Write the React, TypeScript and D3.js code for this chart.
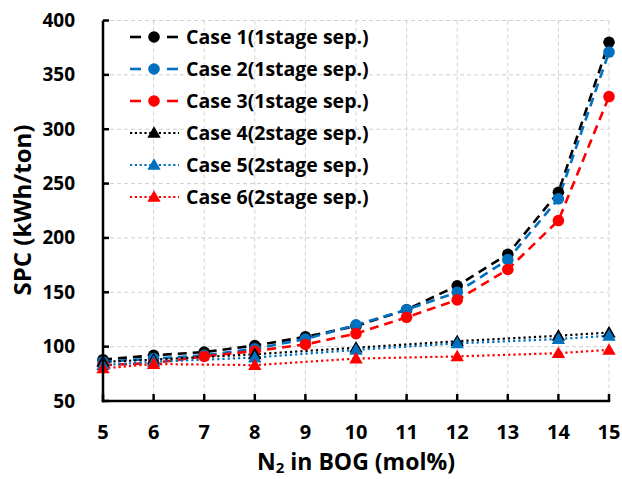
import React from "react";
import * as d3 from "d3";

const xCircle = [5, 6, 7, 8, 9, 10, 11, 12, 13, 14, 15];
const case1 = [88, 92, 95, 101, 109, 119, 134, 156, 185, 242, 380];
const case2 = [86, 89, 92, 98, 107, 120, 134, 150, 180, 236, 371];
const case3 = [83, 85, 91, 96, 102, 112, 127, 143, 171, 216, 330];
const xTri = [5, 6, 8, 10, 12, 14, 15];
const case4 = [86, 88, 93, 99, 105, 110, 113];
const case5 = [83, 86, 90, 97, 103, 107, 110];
const case6 = [80, 84, 83, 89, 91, 94, 97];
const xTicks = [5, 6, 7, 8, 9, 10, 11, 12, 13, 14, 15];
const yTicks = [50, 100, 150, 200, 250, 300, 350, 400];
const labels = [
  "Case 1(1stage sep.)",
  "Case 2(1stage sep.)",
  "Case 3(1stage sep.)",
  "Case 4(2stage sep.)",
  "Case 5(2stage sep.)",
  "Case 6(2stage sep.)",
];

const BLACK = "#000000";
const BLUE = "#0070C0";
const RED = "#FF0000";

type Series = { xs: number[]; ys: number[]; color: string; kind: "circle" | "tri"; label: string };
const series: Series[] = [
  { xs: xCircle, ys: case1, color: BLACK, kind: "circle", label: labels[0] },
  { xs: xCircle, ys: case2, color: BLUE, kind: "circle", label: labels[1] },
  { xs: xCircle, ys: case3, color: RED, kind: "circle", label: labels[2] },
  { xs: xTri, ys: case4, color: BLACK, kind: "tri", label: labels[3] },
  { xs: xTri, ys: case5, color: BLUE, kind: "tri", label: labels[4] },
  { xs: xTri, ys: case6, color: RED, kind: "tri", label: labels[5] },
];

const FONT = "'Open Sans', 'Liberation Sans', sans-serif";

export default function App() {
  const W = 622, H = 479;
  const x = d3.scaleLinear().domain([5, 15]).range([103, 609]);
  const y = d3.scaleLinear().domain([50, 400]).range([401, 20.5]);
  const line = d3.line<[number, number]>().x((d) => x(d[0])).y((d) => y(d[1]));
  const tri = d3.symbol().type(d3.symbolTriangle).size(78)()!;

  const marker = (s: Series, cx: number, cy: number, key: any) =>
    s.kind === "circle" ? (
      <circle key={key} cx={cx} cy={cy} r={5.8} fill={s.color} />
    ) : (
      <path key={key} d={tri} transform={`translate(${cx},${cy + 1})`} fill={s.color} />
    );

  const legendY = [37, 69, 101, 133, 165, 197];

  return (
    <svg width={W} height={H} style={{ position: "absolute", left: 0, top: 0, background: "#fff" }}>
      <rect width={W} height={H} fill="#fff" />
      {/* grid */}
      {xTicks.map((t) => (
        <line key={"gx" + t} x1={x(t)} x2={x(t)} y1={y(400)} y2={y(50)} stroke="#d0d0d0" strokeWidth={1} strokeDasharray="4,3" />
      ))}
      {yTicks.map((t) => (
        <line key={"gy" + t} x1={x(5)} x2={x(15)} y1={y(t)} y2={y(t)} stroke="#d0d0d0" strokeWidth={1} strokeDasharray="4,3" />
      ))}
      {/* series lines */}
      {series.map((s, i) => (
        <path
          key={"l" + i}
          d={line(s.xs.map((v, j) => [v, s.ys[j]] as [number, number]))!}
          fill="none"
          stroke={s.color}
          strokeWidth={s.kind === "circle" ? 2.6 : 2.2}
          strokeDasharray={s.kind === "circle" ? "9,6" : "2.2,3"}
        />
      ))}
      {series.map((s, i) => (
        <g key={"m" + i}>{s.xs.map((v, j) => marker(s, x(v), y(s.ys[j]), j))}</g>
      ))}
      {/* axes */}
      <line x1={x(5)} x2={x(5)} y1={y(400)} y2={y(50) + 1.2} stroke="#000" strokeWidth={2.5} />
      <line x1={x(5) - 1.2} x2={x(15) + 1.2} y1={y(50)} y2={y(50)} stroke="#000" strokeWidth={2.5} />
      {yTicks.map((t) => (
        <line key={"ty" + t} x1={x(5)} x2={x(5) + 6} y1={y(t)} y2={y(t)} stroke="#000" strokeWidth={2.5} />
      ))}
      {xTicks.map((t) => (
        <line key={"tx" + t} x1={x(t)} x2={x(t)} y1={y(50)} y2={y(50) - 7} stroke="#000" strokeWidth={2.5} />
      ))}
      {yTicks.map((t) => (
        <text key={"yl" + t} x={75} y={y(t) + 6.5} textAnchor="end" fontFamily={FONT} fontWeight="bold" fontSize={19} fill="#000">
          {t}
        </text>
      ))}
      {xTicks.map((t) => (
        <text key={"xl" + t} x={x(t)} y={439} textAnchor="middle" fontFamily={FONT} fontWeight="bold" fontSize={20} fill="#000">
          {t}
        </text>
      ))}
      <text x={356} y={470} textAnchor="middle" fontFamily={FONT} fontWeight="bold" fontSize={23} fill="#000">
        N<tspan fontSize={15} dy={3}>2</tspan>
        <tspan dy={-3}> in BOG (mol%)</tspan>
      </text>
      <text
        transform={`translate(31,210) rotate(-90)`}
        textAnchor="middle"
        fontFamily={FONT}
        fontWeight="bold"
        fontSize={24}
        fill="#000"
      >
        SPC (kWh/ton)
      </text>
      {/* legend */}
      {series.map((s, i) => (
        <g key={"lg" + i}>
          {s.kind === "circle" ? (
            <>
              <line x1={130} x2={141} y1={legendY[i]} y2={legendY[i]} stroke={s.color} strokeWidth={2.6} />
              <line x1={167} x2={178} y1={legendY[i]} y2={legendY[i]} stroke={s.color} strokeWidth={2.6} />
            </>
          ) : (
            <line x1={130} x2={179} y1={legendY[i]} y2={legendY[i]} stroke={s.color} strokeWidth={2.2} strokeDasharray="2.2,2.6" />
          )}
          {marker(s, 154, legendY[i], "m")}
          <text x={186} y={legendY[i] + 7} fontFamily={FONT} fontWeight="bold" fontSize={19.5} fill="#000">
            {s.label}
          </text>
        </g>
      ))}
    </svg>
  );
}
